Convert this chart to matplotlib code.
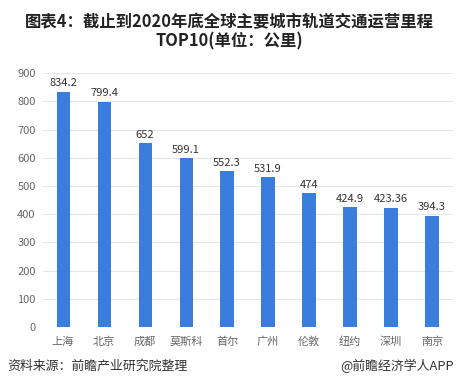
import matplotlib.pyplot as plt
import numpy as np

plt.rcParams['font.family'] = ['Noto Sans CJK SC', 'DejaVu Sans']

cities = ['上海', '北京', '成都', '莫斯科', '首尔', '广州', '伦敦', '纽约', '深圳', '南京']
mileage = [834.2, 799.4, 652, 599.1, 552.3, 531.9, 474, 424.9, 423.36, 394.3]
labels = ['834.2', '799.4', '652', '599.1', '552.3', '531.9', '474', '424.9', '423.36', '394.3']
yticks = [0, 100, 200, 300, 400, 500, 600, 700, 800, 900]

fig = plt.figure(figsize=(4.58, 3.9), dpi=100)
ax = fig.add_axes([0.093, 0.1615, 0.895, 0.651])

x = np.arange(len(cities))
ax.bar(x, mileage, width=0.32, color='#3b7ddd', zorder=3)
for xi, v, s in zip(x, mileage, labels):
    ax.text(xi, v + 12, s, ha='center', va='bottom', fontsize=8, color='#333333')

ax.set_xlim(-0.5, len(cities) - 0.5)
ax.set_ylim(0, 900)
ax.set_yticks(yticks)
ax.set_xticks(x)
ax.set_xticklabels(cities)
ax.tick_params(length=0, labelsize=8, colors='#666666')
ax.tick_params(axis='x', pad=7)
ax.tick_params(axis='y', pad=5)
ax.grid(axis='y', color='#e6e6e6', linewidth=0.8, zorder=0)
for sp in ax.spines.values():
    sp.set_visible(False)

fig.text(0.5, 0.944, '图表4：截止到2020年底全球主要城市轨道交通运营里程', ha='center', va='center',
         fontsize=11.8, fontweight='bold', color='#222222')
fig.text(0.5, 0.893, 'TOP10(单位：公里)', ha='center', va='center',
         fontsize=11.8, fontweight='bold', color='#222222')
fig.text(0.015, 0.062, '资料来源：前瞻产业研究院整理', ha='left', va='center', fontsize=9.3, color='#333333')
fig.text(0.99, 0.062, '@前瞻经济学人APP', ha='right', va='center', fontsize=9.3, color='#333333')

fig.savefig('out.png', dpi=100, facecolor='white')
